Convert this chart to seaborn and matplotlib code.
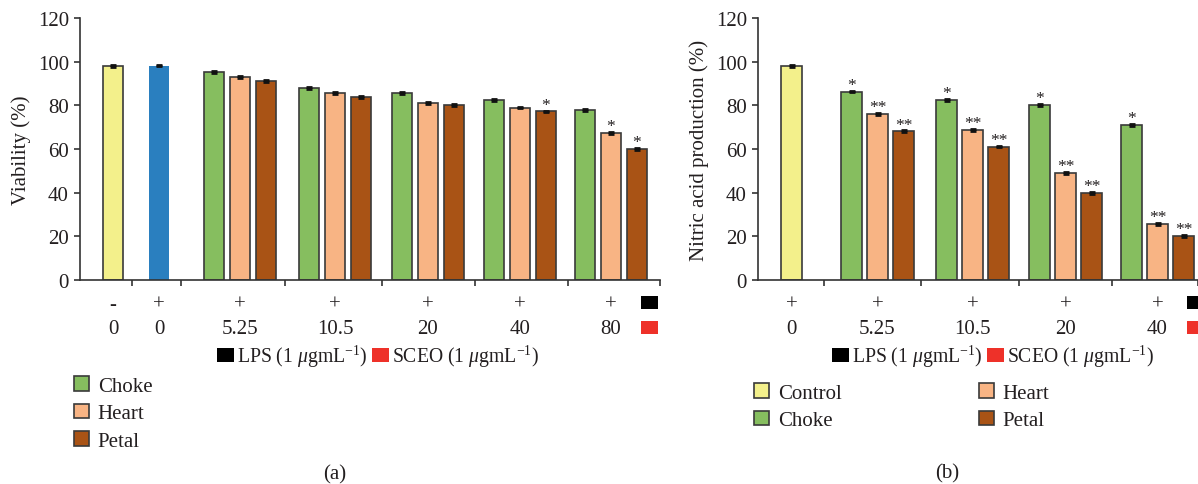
import numpy as np
import pandas as pd
import matplotlib
matplotlib.use("Agg")
import matplotlib.pyplot as plt
import seaborn as sns
from matplotlib.patches import Patch, Rectangle

# ---------------- data ----------------
# Panel (a): viability (%)
a_sign = ["-", "+", "+", "+", "+", "+", "+"]
a_dose = ["0", "0", "5.25", "10.5", "20", "40", "80"]
a_control = [98.0]
a_lps = [98.2]
a_choke = [95.3, 88.1, 85.7, 82.6, 78.0]
a_heart = [93.1, 85.8, 81.2, 79.0, 67.4]
a_petal = [91.0, 83.7, 80.1, 77.2, 60.1]
a_choke_sig = ["", "", "", "", ""]
a_heart_sig = ["", "", "", "", "*"]
a_petal_sig = ["", "", "", "*", "*"]
a_err = 0.4

# Panel (b): nitric acid production (%)
b_sign = ["+", "+", "+", "+", "+"]
b_dose = ["0", "5.25", "10.5", "20", "40"]
b_control = [98.0]
b_choke = [86.3, 82.5, 80.3, 70.9]
b_heart = [75.9, 68.6, 49.0, 25.7]
b_petal = [68.1, 61.1, 40.0, 20.3]
b_choke_sig = ["*", "*", "*", "*"]
b_heart_sig = ["**", "**", "**", "**"]
b_petal_sig = ["**", "**", "**", "**"]
b_err = 0.4

series_names = ["Control", "LPS", "Choke", "Heart", "Petal"]
legend_rows = ["LPS (1 $\\mu$gmL$^{-1}$)", "SCEO (1 $\\mu$gmL$^{-1}$)"]

# ---------------- styles / layout ----------------
pal = {"Control": "#F3F08B", "LPS": "#2A7FBF", "Choke": "#86BE5F",
       "Heart": "#F8B484", "Petal": "#A95315"}
TXT = "#231F20"
EDGE = "#3A3A3A"
PITCH = 26.0
BAR_W = 20.5
a_centers = [33, 79, 160, 255, 348, 440, 531]
a_bounds = [52, 101, 205, 302, 395, 488, 580]
b_centers = [33.5, 119.5, 214.5, 307.5, 399.5]
b_bounds = [66, 163, 261, 354, 440]

sns.set_theme(style="ticks")
plt.rcParams["font.family"] = ["Liberation Serif", "DejaVu Serif"]
plt.rcParams["mathtext.fontset"] = "custom"
plt.rcParams["mathtext.rm"] = "Liberation Serif"
plt.rcParams["mathtext.it"] = "Liberation Serif:italic"
plt.rcParams["text.color"] = TXT
plt.rcParams["axes.labelcolor"] = TXT
plt.rcParams["xtick.color"] = "#333333"
plt.rcParams["ytick.color"] = "#333333"
plt.rcParams["xtick.labelcolor"] = TXT
plt.rcParams["ytick.labelcolor"] = TXT
FS = 15
FS_KEY = 14.2

W, H = 1198, 485
fig = plt.figure(figsize=(W / 100, H / 100), dpi=100)


def build(groups, centers):
    rows = []
    for (members, vals, sigs), c in zip(groups, centers):
        n = len(members)
        for k, (s, v, g) in enumerate(zip(members, vals, sigs)):
            rows.append({"pos": c + (k - (n - 1) / 2) * PITCH,
                         "series": s, "value": v, "sig": g})
    return pd.DataFrame(rows)


def groups_from(single, choke, heart, petal, csig, hsig, psig):
    g = list(single)
    for i in range(len(choke)):
        g.append((["Choke", "Heart", "Petal"],
                  [choke[i], heart[i], petal[i]],
                  [csig[i], hsig[i], psig[i]]))
    return g


ga = groups_from([(["Control"], a_control, [""]), (["LPS"], a_lps, [""])],
                 a_choke, a_heart, a_petal, a_choke_sig, a_heart_sig, a_petal_sig)
gb = groups_from([(["Control"], b_control, [""])],
                 b_choke, b_heart, b_petal, b_choke_sig, b_heart_sig, b_petal_sig)
df_a = build(ga, a_centers)
df_b = build(gb, b_centers)


def draw(ax, df, err, centers, bounds, signs, doses, ylabel, labelpad):
    order = [s for s in series_names if s in set(df["series"])]
    sns.barplot(data=df, x="pos", y="value", hue="series", hue_order=order,
                palette=pal, native_scale=True, width=BAR_W / PITCH,
                dodge=False, legend=False, errorbar=None, ax=ax,
                edgecolor=EDGE, linewidth=1.2, saturation=1)
    for p in ax.patches:
        if matplotlib.colors.to_hex(p.get_facecolor()).upper() == pal["LPS"].upper():
            p.set_edgecolor("none")
    ax.errorbar(df["pos"], df["value"], yerr=err, fmt="none", ecolor="#111111",
                elinewidth=1, capsize=2.5, capthick=2, zorder=5)
    for x, v, s in zip(df["pos"], df["value"], df["sig"]):
        if s:
            ax.annotate(s, (x, v + err), xytext=(0, -1.5), textcoords="offset points",
                        ha="center", va="bottom", fontsize=12.5, color=TXT)
    ax.set_ylim(0, 120)
    ax.set_xlim(0, bounds[-1])
    ax.set_yticks(range(0, 121, 20))
    ax.tick_params(axis="y", labelsize=FS, length=4, width=1.2, pad=4)
    ax.set_xticks(centers)
    ax.set_xticklabels([f"{s}\n{d}" for s, d in zip(signs, doses)], fontsize=FS)
    for lbl in ax.get_xticklabels():
        lbl.set_linespacing(1.42)
    ax.tick_params(axis="x", which="major", length=0, pad=10.5)
    ax.set_xticks(bounds, minor=True)
    ax.tick_params(axis="x", which="minor", length=4, width=1.2, direction="out")
    ax.set_xlabel("")
    ax.set_ylabel(ylabel, fontsize=FS, labelpad=labelpad)
    sns.despine(ax=ax)
    for sp in ("left", "bottom"):
        ax.spines[sp].set_linewidth(1.2)
        ax.spines[sp].set_color("#333333")


ax_a = fig.add_axes([80 / W, 1 - 281 / H, 580 / W, 262 / H])
ax_b = fig.add_axes([758 / W, 1 - 281 / H, 440 / W, 262 / H])
draw(ax_a, df_a, a_err, a_centers, a_bounds, a_sign, a_dose, "Viability (%)", 5)
draw(ax_b, df_b, b_err, b_centers, b_bounds, b_sign, b_dose,
     "Nitric acid production (%)", 5)

# row markers (black = LPS row, red = SCEO row)
for x0 in (641, 1187):
    fig.add_artist(Rectangle((x0 / W, 1 - 310 / H), 17 / W, 13 / H,
                             transform=fig.transFigure, color="#000000", lw=0))
    fig.add_artist(Rectangle((x0 / W, 1 - 335 / H), 17 / W, 13 / H,
                             transform=fig.transFigure, color="#EE3129", lw=0))

# LPS / SCEO key
for cx in (378, 993):
    fig.legend(handles=[Patch(facecolor="#000000", edgecolor="none"),
                        Patch(facecolor="#EE3129", edgecolor="none")],
               labels=legend_rows, loc="center", bbox_to_anchor=(cx / W, 1 - 357 / H),
               ncol=2, frameon=False, fontsize=FS_KEY, handlelength=0.88,
               handleheight=0.67, handletextpad=0.15, columnspacing=0.2,
               borderpad=0, borderaxespad=0)

# series legends
hs = lambda names: [Patch(facecolor=pal[n], edgecolor=EDGE, linewidth=1.2) for n in names]
fig.legend(handles=hs(["Choke", "Heart", "Petal"]), labels=["Choke", "Heart", "Petal"],
           loc="upper left", bbox_to_anchor=(74 / W, 1 - 377 / H), frameon=False,
           fontsize=FS, handlelength=0.72, handleheight=0.72, handletextpad=0.42,
           labelspacing=0.38, borderpad=0, borderaxespad=0)
fig.legend(handles=hs(["Control", "Choke", "Heart", "Petal"]),
           labels=["Control", "Choke", "Heart", "Petal"], ncol=2,
           loc="upper left", bbox_to_anchor=(754 / W, 1 - 384 / H), frameon=False,
           fontsize=FS, handlelength=0.72, handleheight=0.72, handletextpad=0.42,
           labelspacing=0.38, columnspacing=6.6, borderpad=0, borderaxespad=0)

fig.text(335 / W, 1 - 475 / H, "(a)", ha="center", va="center", fontsize=FS)
fig.text(947 / W, 1 - 474 / H, "(b)", ha="center", va="center", fontsize=FS)

fig.savefig("out.png", dpi=100)
